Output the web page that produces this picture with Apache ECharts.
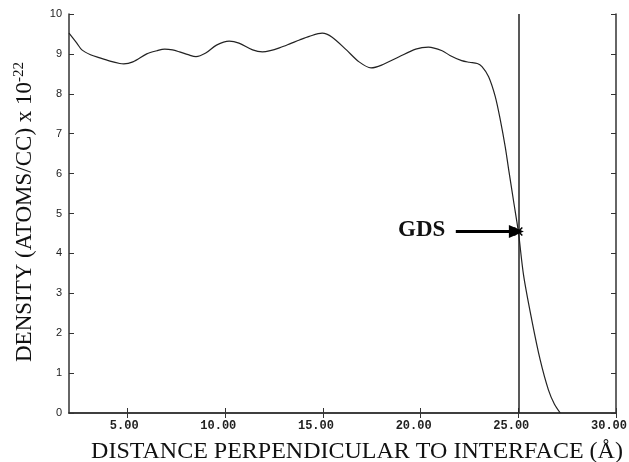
<!DOCTYPE html>
<html>
<head>
<meta charset="utf-8">
<script src="https://cdn.jsdelivr.net/npm/echarts@6/dist/echarts.min.js"></script>
<style>html,body{margin:0;padding:0;background:#fff}#c{width:629px;height:462px}</style>
</head>
<body>
<div id="c"></div>
<script>
// Data
const distance = [2.0, 2.4, 2.66, 3.1, 3.58, 4.1, 4.6, 4.8, 5.27, 5.98, 6.5, 6.9, 7.3, 7.66, 8.1, 8.5, 9.0, 9.55, 10.2, 10.7, 11.4, 11.9, 12.3, 12.77, 13.3, 13.8, 14.3, 14.96, 15.47, 16.2, 16.85, 17.46, 18.0, 18.9, 19.75, 20.4, 21.1, 21.5, 22.1, 22.5, 22.9, 23.14, 23.48, 23.82, 24.08, 24.33, 24.5, 24.76, 25.0, 25.27, 25.69, 26.12, 26.54, 26.85, 27.15];
const density  = [9.52, 9.27, 9.10, 8.98, 8.90, 8.82, 8.76, 8.75, 8.80, 9.00, 9.08, 9.12, 9.10, 9.05, 8.98, 8.93, 9.02, 9.22, 9.32, 9.27, 9.10, 9.05, 9.08, 9.15, 9.25, 9.35, 9.44, 9.52, 9.42, 9.10, 8.80, 8.65, 8.72, 8.93, 9.12, 9.17, 9.08, 8.96, 8.83, 8.79, 8.76, 8.68, 8.43, 7.93, 7.34, 6.67, 6.12, 5.30, 4.55, 3.45, 2.33, 1.33, 0.58, 0.22, 0.0];
const xTickValues = [5, 10, 15, 20, 25, 30];
const gdsX = 25.0;
const gdsY = 4.55;
const arrowStartX = 21.8;

const chart = echarts.init(document.getElementById('c'), null, {renderer: 'canvas'});
const axisColor = '#333';
const option = {
  backgroundColor: '#fff',
  animation: false,
  grid: {left: 69, right: 13, top: 14, bottom: 49, containLabel: false, outerBoundsMode: 'none'},
  xAxis: [{
    type: 'value', min: 2, max: 30, position: 'bottom',
    axisLine: {show: true, lineStyle: {color: axisColor, width: 1.5}},
    axisTick: {show: true, inside: true, length: 5, customValues: xTickValues, lineStyle: {color: axisColor}},
    axisLabel: {customValues: xTickValues, formatter: v => v.toFixed(2), fontFamily: 'Liberation Mono', fontWeight: 'bold', fontSize: 12, color: '#222', margin: 7, hideOverlap: false, align: 'right', padding: [0, -11, 0, 0]},
    splitLine: {show: false}
  }, {
    type: 'value', min: 2, max: 30, position: 'top',
    axisLine: {show: true, lineStyle: {color: axisColor, width: 1.5}},
    axisTick: {show: true, inside: true, length: 5, customValues: xTickValues, lineStyle: {color: axisColor}},
    axisLabel: {show: false},
    splitLine: {show: false}
  }],
  yAxis: [{
    type: 'value', min: 0, max: 10, interval: 1, position: 'left',
    axisLine: {show: true, lineStyle: {color: axisColor, width: 1.5}},
    axisTick: {show: true, inside: true, length: 5, lineStyle: {color: axisColor}},
    axisLabel: {fontFamily: 'Liberation Sans', fontSize: 11, color: '#222', margin: 7},
    splitLine: {show: false}
  }, {
    type: 'value', min: 0, max: 10, interval: 1, position: 'right',
    axisLine: {show: true, lineStyle: {color: axisColor, width: 1.5}},
    axisTick: {show: true, inside: true, length: 5, lineStyle: {color: axisColor}},
    axisLabel: {show: false},
    splitLine: {show: false}
  }],
  series: [{
    type: 'line',
    data: distance.map((x, i) => [x, density[i]]),
    smooth: 0.3,
    showSymbol: false,
    lineStyle: {color: '#222', width: 1.2},
    markLine: {
      silent: true, symbol: ['none', 'none'], label: {show: false},
      lineStyle: {color: '#222', width: 1.5, type: 'solid'},
      data: [{xAxis: gdsX}]
    }
  }, {
    type: 'line',
    data: [[gdsX, gdsY]],
    showSymbol: true,
    symbol: 'path://M0,0L10,10M10,0L0,10',
    symbolSize: 8,
    itemStyle: {color: 'none', borderColor: '#000', borderWidth: 1.5},
    lineStyle: {width: 0},
    markLine: {
      silent: true, symbol: ['none', 'triangle'], symbolSize: [13, 15],
      label: {show: false},
      lineStyle: {color: '#000', width: 3, type: 'solid'},
      data: [[{coord: [arrowStartX, gdsY]}, {coord: [gdsX - 0.1, gdsY]}]]
    }
  }],
  graphic: [{
    type: 'text', left: 398, top: 219,
    style: {text: 'GDS', font: 'bold 23px "Liberation Serif"', fill: '#111'}
  }, {
    type: 'text', x: 357, y: 452,
    style: {text: 'DISTANCE PERPENDICULAR TO INTERFACE (Å)', font: '24px "Liberation Serif"', fill: '#111', textAlign: 'center', textVerticalAlign: 'middle'}
  }, {
    type: 'text', x: 24, y: 212, rotation: Math.PI / 2,
    style: {
      text: '{m|DENSITY (ATOMS/CC) x 10}{s|-22}',
      textAlign: 'center', textVerticalAlign: 'middle',
      rich: {
        m: {font: '23px "Liberation Serif"', fill: '#111', verticalAlign: 'bottom'},
        s: {font: '15px "Liberation Serif"', fill: '#111', verticalAlign: 'top', padding: [0, 0, 10, 0]}
      }
    }
  }]
};
chart.setOption(option);
</script>
</body>
</html>
